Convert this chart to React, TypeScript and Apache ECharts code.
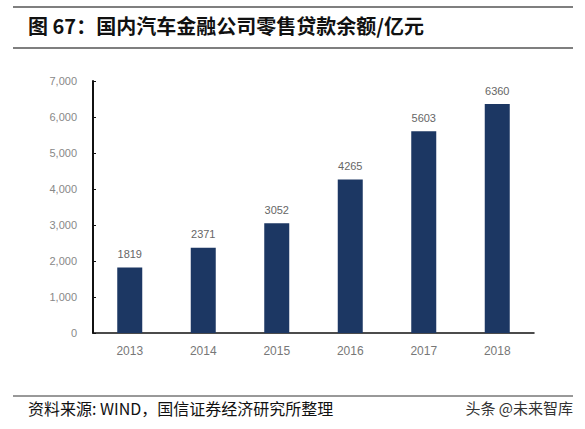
import React, { useEffect, useRef } from "react";
import * as echarts from "echarts";

const categories = ["2013", "2014", "2015", "2016", "2017", "2018"];
const values = [1819, 2371, 3052, 4265, 5603, 6360];
const yTicks = [0, 1000, 2000, 3000, 4000, 5000, 6000, 7000];

const titleText = "图 67：国内汽车金融公司零售贷款余额/亿元";
const sourceText = "资料来源: WIND，国信证券经济研究所整理";
const watermarkText = "头条 @未来智库";

const FONT = "'Liberation Sans', Arial, 'Noto Sans CJK SC', sans-serif";
const CJK = "'Noto Sans CJK SC', 'Liberation Sans', sans-serif";

export default function App() {
  const ref = useRef<HTMLDivElement>(null);
  useEffect(() => {
    if (!ref.current) return;
    const chart = echarts.init(ref.current, null, { renderer: "svg" });
    chart.setOption({
      animation: false,
      backgroundColor: "#ffffff",
      grid: { left: 93, right: 51, top: 81, bottom: 96, containLabel: false },
      xAxis: {
        type: "category",
        data: categories,
        axisLine: { lineStyle: { color: "#111", width: 1.5 } },
        axisTick: { show: false },
        axisLabel: { color: "#777", fontSize: 12, fontFamily: FONT, margin: 12 },
      },
      yAxis: {
        type: "value",
        min: yTicks[0],
        max: yTicks[yTicks.length - 1],
        interval: 1000,
        axisLine: { show: true, lineStyle: { color: "#111", width: 2 } },
        axisTick: { show: true, inside: true, length: 3, lineStyle: { color: "#111" } },
        splitLine: { show: false },
        axisLabel: {
          color: "#888",
          fontSize: 11,
          fontFamily: FONT,
          margin: 16,
          formatter: (v: number) => v.toLocaleString("en-US"),
        },
      },
      series: [
        {
          type: "bar",
          data: values,
          barWidth: 25,
          itemStyle: { color: "#1c3763" },
          label: {
            show: true,
            position: "top",
            distance: 8,
            color: "#666",
            fontSize: 11,
            fontFamily: FONT,
          },
        },
      ],
      graphic: [
        { type: "line", shape: { x1: 13, y1: 7, x2: 573, y2: 7 }, style: { stroke: "#555", lineWidth: 1.5 } },
        {
          type: "text",
          left: 28,
          top: 15,
          style: { text: titleText, font: "bold 20px " + CJK, fill: "#111" },
        },
        { type: "line", shape: { x1: 13, y1: 48, x2: 573, y2: 48 }, style: { stroke: "#555", lineWidth: 1.5 } },
        { type: "line", shape: { x1: 13, y1: 396, x2: 573, y2: 396 }, style: { stroke: "#333", lineWidth: 1 } },
        {
          type: "text",
          left: 28,
          top: 400,
          style: { text: sourceText, font: "16px " + CJK, fill: "#111" },
        },
        {
          type: "text",
          right: 12,
          top: 400,
          style: { text: watermarkText, font: "15px " + CJK, fill: "#333" },
        },
      ],
    });
    return () => chart.dispose();
  }, []);
  return <div ref={ref} style={{ width: 585, height: 429, position: "absolute", left: 0, top: 0 }} />;
}
